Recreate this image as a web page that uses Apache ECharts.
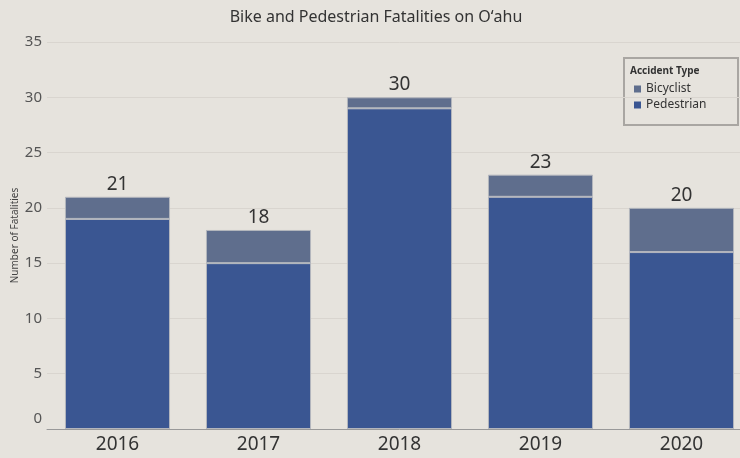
<!DOCTYPE html>
<html><head><meta charset="utf-8">
<script src="https://cdn.jsdelivr.net/npm/echarts@6/dist/echarts.min.js"></script>
<style>html,body{margin:0;padding:0;background:#e6e3dd;overflow:hidden;}#c{width:752px;height:458px;}</style>
</head><body><div id="c"></div>
<script>
const years = ['2016','2017','2018','2019','2020'];
const pedestrian = [19, 15, 29, 21, 16];
const bicyclist = [2, 3, 1, 2, 4];
const totals = [21, 18, 30, 23, 20];
const yTicks = [0, 5, 10, 15, 20, 25, 30, 35];

const chart = echarts.init(document.getElementById('c'));
const F = '"Noto Sans", "Open Sans", sans-serif';
chart.setOption({
  backgroundColor: '#e6e3dd',
  animation: false,
  title: {
    text: 'Bike and Pedestrian Fatalities on O\u02bbahu',
    left: 'center', top: 4,
    textStyle: { fontFamily: F, fontSize: 16, fontWeight: 'normal', color: '#333' }
  },
  legend: {
    data: [
      { name: 'Bicyclist', icon: 'rect' },
      { name: 'Pedestrian', icon: 'rect' }
    ],
    orient: 'vertical', left: 629, top: 78,
    itemWidth: 7, itemHeight: 7, itemGap: 4,
    itemStyle: { borderWidth: 0 },
    textStyle: { fontFamily: F, fontSize: 12, color: '#333' }
  },
  graphic: [
    { type: 'rect', left: 623, top: 57, shape: { width: 114, height: 67 },
      style: { fill: 'rgba(0,0,0,0)', stroke: '#a9a6a2', lineWidth: 2 } },
    { type: 'text', left: 630, top: 66,
      style: { text: 'Accident Type', fontFamily: F, fontSize: 10, fontWeight: 'bold', fill: '#333' } }
  ],
  grid: { left: 47, top: 42, right: 0, bottom: 29, containLabel: false, outerBoundsMode: 'none' },
  xAxis: {
    type: 'category', data: years,
    axisLine: { lineStyle: { color: '#999', width: 1 } },
    axisTick: { show: false },
    axisLabel: { fontFamily: F, fontSize: 19, color: '#333', margin: 6 }
  },
  yAxis: {
    type: 'value', min: 0, max: 35, interval: 5,
    name: 'Number of Fatalities', nameLocation: 'middle', nameGap: 27, nameRotate: 90,
    nameMoveOverlap: false,
    nameTextStyle: { fontFamily: F, fontSize: 10, color: '#444' },
    axisLabel: { fontFamily: F, fontSize: 15, color: '#555', margin: 5,
      formatter: v => v === 0 ? '{z|0}' : (yTicks.includes(v) ? String(v) : ''),
      rich: { z: { fontFamily: F, fontSize: 15, color: '#555', padding: [0, 0, 20, 0] } } },
    splitLine: { lineStyle: { color: '#d9d5cf', width: 1 } },
    axisLine: { show: false }, axisTick: { show: false }
  },
  series: [
    { name: 'Pedestrian', type: 'bar', stack: 't', data: pedestrian, barWidth: '74.5%',
      itemStyle: { color: '#3a5692', borderColor: '#b3b6bd', borderWidth: 1 } },
    { name: 'Bicyclist', type: 'bar', stack: 't', data: bicyclist, barWidth: '74.5%',
      itemStyle: { color: '#5f6e8d', borderColor: '#b3b6bd', borderWidth: 1 },
      label: { show: true, position: 'top', distance: 3,
        formatter: p => String(totals[p.dataIndex]),
        fontFamily: F, fontSize: 19, color: '#333' } }
  ]
});
</script></body></html>
